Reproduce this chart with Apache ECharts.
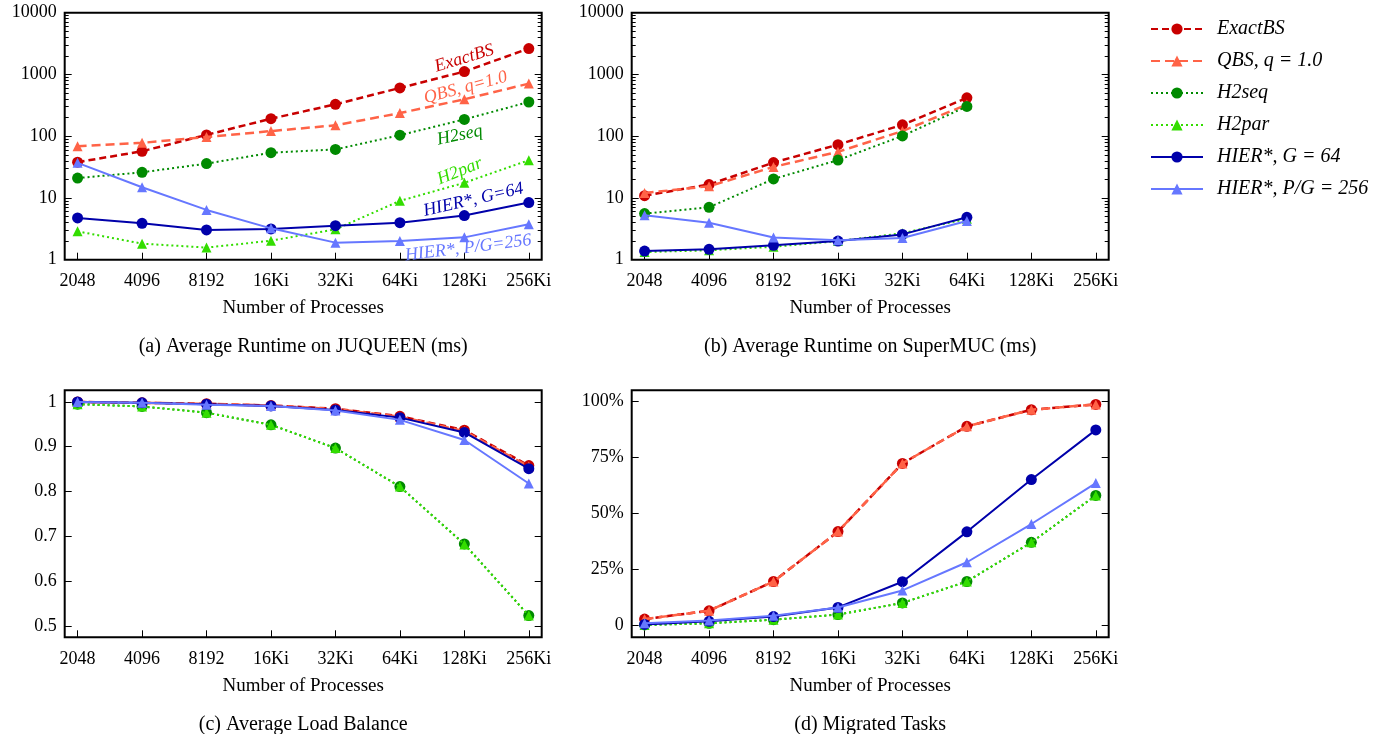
<!DOCTYPE html>
<html>
<head>
<meta charset="utf-8">
<script src="https://cdn.jsdelivr.net/npm/echarts@6/dist/echarts.min.js"></script>
<style>
  html, body { margin: 0; padding: 0; background: #fff; }
  #main { width: 1393px; height: 734px; }
</style>
</head>
<body>
<div id="main"></div>
<script>
var procs = ['2048', '4096', '8192', '16Ki', '32Ki', '64Ki', '128Ki', '256Ki'];

// (a) average runtime on JUQUEEN (ms)
var juqExact = [38, 57, 105, 192, 328, 605, 1115, 2630];
var juqQbs = [69, 78, 97, 121, 150, 237, 396, 711];
var juqH2seq = [21, 26, 36, 54, 61, 104, 187, 358];
var juqH2par = [2.88, 1.82, 1.57, 2.03, 3.1, 8.97, 17.6, 40.9];
var juqHierG = [4.75, 3.88, 3.03, 3.15, 3.56, 3.98, 5.18, 8.42];
var juqHierPG = [37, 14.9, 6.4, 3.22, 1.89, 2.01, 2.3, 3.74];

// (b) average runtime on SuperMUC (ms), only up to 64Ki
var smExact = [10.9, 16.5, 37.4, 73, 153, 418];
var smQbs = [12, 15.5, 31.8, 55.8, 121, 325];
var smH2seq = [5.58, 7.06, 20.3, 41, 101, 304];
var smH2par = [1.33, 1.42, 1.62, 2.0, 2.68, 4.6];
var smHierG = [1.38, 1.47, 1.71, 2.0, 2.57, 4.86];
var smHierPG = [5.24, 3.98, 2.28, 2.06, 2.24, 4.24];

// (c) average load balance
var lbExact = [1.0, 0.998, 0.996, 0.992, 0.985, 0.968, 0.937, 0.858];
var lbQbs = [1.0, 0.998, 0.996, 0.992, 0.984, 0.967, 0.935, 0.856];
var lbH2seq = [0.995, 0.99, 0.976, 0.949, 0.897, 0.811, 0.683, 0.523];
var lbH2par = [0.995, 0.99, 0.976, 0.949, 0.897, 0.811, 0.682, 0.523];
var lbHierG = [1.0, 0.998, 0.995, 0.991, 0.982, 0.965, 0.932, 0.851];
var lbHierPG = [1.0, 0.998, 0.994, 0.991, 0.981, 0.96, 0.915, 0.818];

// (d) migrated tasks (%)
var migExact = [2.8, 6.5, 19.6, 41.9, 72.4, 89, 96.4, 98.8];
var migQbs = [2.8, 6.5, 19.6, 41.9, 72.4, 89, 96.4, 98.8];
var migH2seq = [0.15, 0.9, 2.5, 4.8, 10, 19.6, 37.1, 58.1];
var migH2par = [0.15, 0.9, 2.5, 4.8, 10, 19.6, 37.1, 58.1];
var migHierG = [0.4, 1.8, 3.9, 8.0, 19.5, 41.8, 65.2, 87.4];
var migHierPG = [0.9, 2.1, 4.3, 8.0, 15.6, 28.2, 45.3, 63.6];

var logTicks = [1, 10, 100, 1000, 10000];
var logMinor = [];
[1, 10, 100, 1000].forEach(function (d) {
  for (var k = 2; k <= 9; k++) logMinor.push(k * d);
});
var lbTicks = [0.5, 0.6, 0.7, 0.8, 0.9, 1];
var migTicks = [0, 25, 50, 75, 100];

var FONT = 'Liberation Serif';

var styles = [
  { name: 'ExactBS', color: '#c80000', dash: [7, 4], width: 2.5, symbol: 'circle', size: 11 },
  { name: 'QBS, q = 1.0', color: '#ff6347', dash: [9, 5], width: 2.5, symbol: 'triangle', size: 10 },
  { name: 'H2seq', color: '#008a00', dash: [2, 3], width: 2, symbol: 'circle', size: 11 },
  { name: 'H2par', color: '#33dd00', dash: [2, 3], width: 2, symbol: 'triangle', size: 10 },
  { name: 'HIER*, G = 64', color: '#0000aa', dash: 'solid', width: 2, symbol: 'circle', size: 11 },
  { name: 'HIER*, P/G = 256', color: '#6677ff', dash: 'solid', width: 2, symbol: 'triangle', size: 10 }
];

var grids = [], xAxes = [], yAxes = [], series = [], graphics = [];

function tickAxis(gridIndex, pos, base, values, len, labels) {
  var ax = Object.assign({
    gridIndex: gridIndex,
    position: pos,
    axisLine: { show: false, onZero: false },
    splitLine: { show: false },
    axisTick: { show: true, inside: true, length: len, customValues: values, lineStyle: { color: '#000', width: 1 } },
    axisLabel: { show: false }
  }, base);
  if (labels) {
    ax.axisLabel = {
      show: true, customValues: values, margin: 8,
      color: '#000', fontFamily: FONT, fontSize: 18,
      formatter: labels
    };
  }
  return ax;
}

function addPanel(left, top, yBase, major, minor, labelFmt, data, caption) {
  var g = grids.length;
  grids.push({ left: left, top: top, width: 477, height: 247, show: true, borderColor: '#000', borderWidth: 2 });
  xAxes.push({
    gridIndex: g, type: 'value', min: -0.2, max: 7.2,
    axisLine: { show: false, onZero: false },
    splitLine: { show: false },
    axisTick: { show: true, inside: true, length: 7, customValues: [0, 1, 2, 3, 4, 5, 6, 7], lineStyle: { color: '#000' } },
    axisLabel: {
      customValues: [0, 1, 2, 3, 4, 5, 6, 7], margin: 13,
      color: '#000', fontFamily: FONT, fontSize: 18,
      formatter: function (v) { return procs[Math.round(v)]; }
    },
    name: 'Number of Processes', nameLocation: 'middle', nameGap: 39,
    nameTextStyle: { color: '#000', fontFamily: FONT, fontSize: 19 }
  });
  var yMain = yAxes.length;
  yAxes.push(tickAxis(g, 'left', yBase, major, 7, labelFmt));
  yAxes.push(tickAxis(g, 'right', yBase, major, 7, null));
  data.forEach(function (vals, i) {
    var s = styles[i];
    series.push({
      name: s.name, type: 'line', xAxisIndex: g, yAxisIndex: yMain,
      data: vals.map(function (v, k) { return [k, v]; }),
      symbol: s.symbol, symbolSize: s.size,
      itemStyle: { color: s.color },
      lineStyle: { color: s.color, width: s.width, type: s.dash },
      z: 2 + i
    });
  });
  var first = series.length - data.length;
  if (minor) {
    // overlay grid carrying only the short log ticks
    var m = grids.length;
    grids.push({ left: left, top: top, width: 477, height: 247, show: false });
    xAxes.push({ gridIndex: m, type: 'value', min: 1, max: 2, show: false, axisLine: { onZero: false } });
    yAxes.push(tickAxis(m, 'left', yBase, minor, 4, null));
    yAxes.push(tickAxis(m, 'right', yBase, minor, 4, null));
  }
  graphics.push({
    type: 'text', x: left + 238.5, y: top + 334,
    style: { text: caption, fill: '#000', font: '20px "' + FONT + '"', align: 'center', verticalAlign: 'middle' }
  });
  return first;
}

var logBase = { type: 'log', logBase: 10, min: 1, max: 10000 };
var logFmt = function (v) { return String(Math.round(v)); };

var firstA = addPanel(64.7, 12.7, logBase, logTicks, logMinor, logFmt,
  [juqExact, juqQbs, juqH2seq, juqH2par, juqHierG, juqHierPG],
  '(a) Average Runtime on JUQUEEN (ms)');
addPanel(631.7, 12.7, logBase, logTicks, logMinor, logFmt,
  [smExact, smQbs, smH2seq, smH2par, smHierG, smHierPG],
  '(b) Average Runtime on SuperMUC (ms)');
addPanel(64.7, 390.3, { type: 'value', min: 0.4746, max: 1.026 }, lbTicks, null,
  function (v) { return String(Math.round(v * 10) / 10); },
  [lbExact, lbQbs, lbH2seq, lbH2par, lbHierG, lbHierPG],
  '(c) Average Load Balance');
addPanel(631.7, 390.3, { type: 'value', min: -5.36, max: 105.1 }, migTicks, null,
  function (v) { return v === 0 ? '0' : Math.round(v) + '%'; },
  [migExact, migQbs, migH2seq, migH2par, migHierG, migHierPG],
  '(d) Migrated Tasks');

// in-plot labels of panel (a): [series, x index, y value, rotation, text]
var notes = [
  [0, 6.0, 1820, 17, 'ExactBS'],
  [1, 6.02, 613, 15, 'QBS, q=1.0'],
  [2, 5.93, 103, 12, 'H2seq'],
  [3, 5.93, 27, 22, 'H2par'],
  [4, 6.14, 9.3, 13, 'HIER*, G=64'],
  [5, 6.06, 1.55, 7, 'HIER*, P/G=256']
];
notes.forEach(function (n) {
  var s = series[firstA + n[0]];
  s.markPoint = {
    symbol: 'circle', symbolSize: 0, silent: true,
    data: [{ coord: [n[1], n[2]] }],
    label: {
      show: true, position: 'inside', rotate: n[3], formatter: n[4],
      color: styles[n[0]].color, fontFamily: FONT, fontStyle: 'italic', fontSize: 18
    }
  };
});

var myChart = echarts.init(document.getElementById('main'));
var option = {
  animation: false,
  backgroundColor: '#fff',
  grid: grids,
  xAxis: xAxes,
  yAxis: yAxes,
  series: series,
  graphic: graphics,
  legend: {
    orient: 'vertical', left: 1150, top: 19, padding: 0,
    itemWidth: 52, itemHeight: 14, itemGap: 12,
    data: styles.map(function (s) { return s.name; }),
    textStyle: { color: '#000', fontFamily: FONT, fontStyle: 'italic', fontSize: 20, padding: [0, 0, 0, 9] }
  }
};
myChart.setOption(option);
window.onresize = function () {
  myChart.resize();
};
</script>
</body>
</html>
